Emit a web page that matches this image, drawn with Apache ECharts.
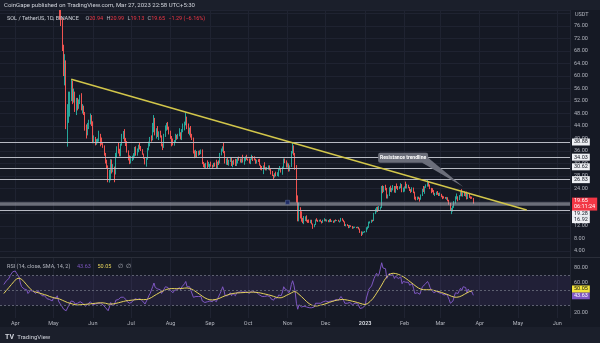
<!DOCTYPE html>
<html><head><meta charset="utf-8">
<script src="https://cdn.jsdelivr.net/npm/echarts@6/dist/echarts.min.js"></script>
<style>html,body{margin:0;padding:0;background:#151924;}#c{width:600px;height:343px;}</style>
</head><body><div id="c"></div>
<script>
// ---------- axis domain ----------
const axisStart = '2022-03-20', axisEnd = '2023-06-11';
const monthNames = ['Jan','Feb','Mar','Apr','May','Jun','Jul','Aug','Sep','Oct','Nov','Dec'];
const priceTickStep = 4, priceMin = 4, priceMax = 81.12, priceTopLabel = 76;
const rsiLabels = [20, 40, 60, 80], rsiMin = 13.333, rsiMax = 93.333;

// ---------- daily candles [open, high, low, close] ----------
const candleStart = '2022-05-05';
const may22 = [[95,96,84,86.5],[86.5,87,78,81],[81,82,76,77.5],[77.5,78.5,68,69],[69,70,60,62],[62,67,57,64],[64,65,43,45],[45,51,37.4,48],[48,55,45,51],[51,55,47,53],[53,59,52,58],[58,58.5,51,52.5],[52.5,56,51.5,54.5],[54.5,55,48.5,49],[49,53,47.5,52],[52,53,49,50.5],[50.5,52.5,49.5,51.5],[51.5,54,51,53],[53,54.5,49,49.5],[49.5,51,48,49.8],[49.8,50.5,47.5,48],[48,48.5,42.5,43.5],[43.5,44.5,40,41.5],[41.5,45,41,44.2],[44.2,46,43,45.3],[45.3,48,44.5,47],[47,47.5,44,45]];
const jun22 = [[45,45.5,38.5,39.2],[39.2,41,38.5,40.3],[40.3,40.5,37.8,38.6],[38.6,39.8,38,39.4],[39.4,40,38.5,39.6],[39.6,42.5,39,41.2],[41.2,41.5,37.5,39.5],[39.5,40.3,38,38.6],[38.6,38.9,37,37.5],[37.5,37.8,34.5,35],[35,35.4,32,32.6],[32.6,33.2,30.5,31.2],[31.2,31.4,26,26.9],[26.9,30,25.9,29.3],[29.3,33.4,26.6,32.9],[32.9,33.3,28.8,29.4],[29.4,31.8,29.2,30.6],[30.6,31,26,29.8],[29.8,35.4,28.5,35],[35,37.5,33.8,36.2],[36.2,38.6,35.2,35.9],[35.9,36.7,34.3,34.6],[34.6,38.4,34.3,38.2],[38.2,41.5,37.7,40.6],[40.6,42.4,39.8,41.9],[41.9,43,39,39.4],[39.4,40.2,37.6,38.2],[38.2,39.2,35.5,35.8],[35.8,36.2,33,34.3],[34.3,34.6,31.8,33.2]];
const jul22 = [[33.2,34.4,32,33.5],[33.5,34.5,32.8,34],[34,35.3,33.2,35],[35,37.3,34.2,37],[37,37.5,34.5,35.3],[35.3,36.8,34.5,36.3],[36.3,38,35.6,37.7],[37.7,38.6,36.5,37.2],[37.2,37.6,36,36.4],[36.4,36.6,34.8,35.1],[35.1,35.2,33.5,33.8],[33.8,34,31.7,32],[32,34,31,33.6],[33.6,37,33.2,36.6],[36.6,39,36.2,38.4],[38.4,40.5,37.5,40.2],[40.2,41,39,39.6],[39.6,45,39.4,44],[44,47.5,42,44.6],[44.6,46.6,41,41.5],[41.5,43.3,40,42.9],[42.9,44,40.5,41],[41,42.3,39.5,41.2],[41.2,42.5,40.3,40.7],[40.7,41,37.5,37.7],[37.7,38.4,36.3,37.6],[37.6,41.5,37,41.2],[41.2,44.2,40.5,43.5],[43.5,45,42.5,44.4],[44.4,45.3,42.8,43.2],[43.2,43.8,41.3,41.6]];
const aug22 = [[41.6,42.5,39.8,40.2],[40.2,40.8,37.5,38.5],[38.5,40,37.8,38.2],[38.2,39.5,37.7,39.1],[39.1,41.5,38.8,40.9],[40.9,41.2,39.6,40],[40,41.5,39.8,41],[41,43.3,40.7,41.9],[41.9,42,39.7,40.4],[40.4,43,39.5,42.4],[42.4,44.8,42,43.8],[43.8,45.4,42.6,44.9],[44.9,48.3,44.2,46.3],[46.3,47,43,43.5],[43.5,44.8,41.5,42.2],[42.2,43.5,41,42.9],[42.9,44,40.3,40.6],[40.6,41.5,39.5,40],[40,40.3,35.2,35.6],[35.6,36.2,33.7,34.5],[34.5,36.4,34,35.8],[35.8,36,33.8,35.4],[35.4,36.1,34.5,35.6],[35.6,36.2,34.7,35.2],[35.2,36.5,35,35.9],[35.9,36.5,31.8,32.1],[32.1,32.5,30.8,31.6],[31.6,32,30.6,30.9],[30.9,32.2,30.5,31.8],[31.8,33,30.5,31.2],[31.2,32.5,30.9,31.3]];
const sep22 = [[31.3,31.9,30.6,31.7],[31.7,32.6,31,31.4],[31.4,31.6,30.6,31],[31,32.2,30.8,32],[32,32.3,31,31.6],[31.6,33.2,30.4,30.7],[30.7,32.6,30.3,32.3],[32.3,33,31.5,32.2],[32.2,35.4,32,35],[35,36.8,34.6,36.4],[36.4,37.5,35.8,37.1],[37.1,38.6,35.3,35.6],[35.6,36,32,32.4],[32.4,33.6,31.6,33.2],[33.2,33.8,31.5,31.9],[31.9,33.2,31.3,32.8],[32.8,34,32.5,33.6],[33.6,33.8,31.2,31.5],[31.5,32.9,30.8,32.8],[32.8,33.2,31.6,31.9],[31.9,33.5,31.2,31.5],[31.5,33.4,31.2,33],[33,33.8,32,33.5],[33.5,34.2,32.9,33.2],[33.2,33.6,32.3,32.8],[32.8,33.6,32.2,33.4],[33.4,34.8,32.3,32.6],[32.6,33.8,31.6,33.5],[33.5,34.3,32.7,33.9],[33.9,34.8,33.2,33.4]];
const oct22 = [[33.4,33.6,32.9,33.1],[33.1,33.6,32,32.3],[32.3,33.6,31.8,33.4],[33.4,34.8,33.2,34.3],[34.3,34.4,32.8,33.7],[33.7,34.3,33,33.2],[33.2,33.5,31.9,32.4],[32.4,33.2,32,33],[33,33.4,32.5,32.8],[32.8,33.5,31.3,31.5],[31.5,31.6,30,30.6],[30.6,31.2,29.8,30.4],[30.4,31.4,28.6,30.6],[30.6,32.4,30.1,30.3],[30.3,30.8,29.8,30],[30,30.9,29.8,30.5],[30.5,31.4,30,31],[31,31.4,29.8,30.2],[30.2,30.4,28.5,28.8],[28.8,29.6,28,28.2],[28.2,28.4,26.9,27.8],[27.8,28.9,27.5,28.8],[28.8,29.4,27.9,28.4],[28.4,29.2,28,28.5],[28.5,30.5,27.8,30.3],[30.3,31.2,29.8,30.4],[30.4,30.6,29.1,29.2],[29.2,31,28.4,30.8],[30.8,33.6,30.6,33.4],[33.4,33.6,32.1,32.3],[32.3,33,30.7,31.3]];
const nov22 = [[31.3,32.3,30.7,31.6],[31.6,32,29.4,29.8],[29.8,31.4,29.5,31.1],[31.1,36,30.9,35.5],[35.5,38.8,35.2,37.6],[37.6,37.8,34.6,35.2],[35.2,35.4,30,30.4],[30.4,31.5,19.5,21],[21,21.8,13.5,15],[15,19.5,13.5,17.8],[17.8,18,14.4,15.3],[15.3,16.7,13.4,14.1],[14.1,14.6,12.9,13.6],[13.6,15.2,12.6,14.2],[14.2,15.1,13.6,14.2],[14.2,15.4,13.4,13.7],[13.7,14,13,13.4],[13.4,14.1,13,13.2],[13.2,14,12.9,13.7],[13.7,14,12.5,12.7],[12.7,12.8,11.1,11.9],[11.9,12.6,11.6,12.5],[12.5,14.1,12.3,13.9],[13.9,14.5,13.5,13.8],[13.8,14,13.3,13.6],[13.6,14,13.4,13.8],[13.8,14.1,13.4,13.5],[13.5,13.6,12.8,13.2],[13.2,14,13,13.6],[13.6,14.5,13.5,14.1]];
const dec22 = [[14.1,14.2,13.5,13.8],[13.8,14.1,13.4,13.8],[13.8,13.9,13.2,13.3],[13.3,14.2,13.2,13.9],[13.9,14.3,13.3,13.5],[13.5,13.8,13.3,13.6],[13.6,13.7,13,13.3],[13.3,13.9,13.1,13.8],[13.8,14.1,13.5,13.7],[13.7,13.9,13.6,13.8],[13.8,14,13.4,13.5],[13.5,13.7,13.1,13.6],[13.6,14.6,13.4,14.2],[14.2,14.5,13.7,13.9],[13.9,14,13.2,13.4],[13.4,13.5,12,12.2],[12.2,12.6,11.9,12.4],[12.4,12.6,12,12.2],[12.2,12.3,11.3,11.5],[11.5,12.3,11.4,12.1],[12.1,12.2,11.7,11.9],[11.9,12,11.1,11.3],[11.3,11.8,11.2,11.6],[11.6,11.8,11.4,11.6],[11.6,11.7,11.3,11.4],[11.4,11.8,11.3,11.6],[11.6,11.7,10.9,11.1],[11.1,11.2,9.8,9.9],[9.9,10.3,8.8,9.6],[9.6,10.2,9.2,9.9],[9.9,10.2,9.8,10]];
const jan23 = [[10,10.4,9.9,10.1],[10.1,11.6,10,11.4],[11.4,11.9,10.9,11.6],[11.6,13.4,11.4,13.2],[13.2,13.5,12.8,13.4],[13.4,14,13,13.9],[13.9,14,13.4,13.7],[13.7,16.2,13.6,16],[16,17.6,15.8,17],[17,18.1,16.4,17.9],[17.9,18.2,16.5,17.3],[17.3,18.4,16.8,17.9],[17.9,18.2,17.2,18],[18,24.8,17.8,24.3],[24.3,25,22.5,23.2],[23.2,24.8,22.9,24.4],[24.4,25.2,23.4,23.9],[23.9,24.2,20.8,21.4],[21.4,22.1,20.8,21.8],[21.8,24.4,21.6,24.1],[24.1,24.9,22.9,23.5],[23.5,24.2,22.8,23.7],[23.7,25.1,23.4,24.4],[24.4,24.8,22.7,23],[23,24.8,22.6,24.6],[24.6,25.6,23.9,24.3],[24.3,24.8,23.5,24.2],[24.2,24.7,23.8,24.4],[24.4,25.7,24.1,25.3],[25.3,25.4,22.8,23],[23,24.3,22.8,24.1]];
const feb23 = [[24.1,24.7,23,24.5],[24.5,26.2,24,24.4],[24.4,25.5,24,24.6],[24.6,25.2,24.1,24.4],[24.4,24.5,23.2,23.5],[23.5,23.8,22.6,23.3],[23.3,24.4,22.9,24.1],[24.1,24.3,22.5,22.9],[22.9,23,20.5,20.8],[20.8,21.4,20.2,20.5],[20.5,21.4,20.3,21.2],[21.2,21.4,20.6,20.9],[20.9,21.1,19.8,20.6],[20.6,22.1,20.4,21.9],[21.9,23.9,21.6,23.8],[23.8,24.8,22.9,23.1],[23.1,24.7,22.3,24.5],[24.5,25.3,24.2,24.9],[24.9,26.9,24.6,25.9],[25.9,26.4,24.6,25.2],[25.2,25.3,23.8,24.1],[24.1,24.2,22.5,23.5],[23.5,24.1,22.8,23.2],[23.2,23.5,22,22.2],[22.2,22.6,21.6,22.2],[22.2,23,21.9,22.7],[22.7,23.2,22,22.4],[22.4,22.6,21.6,22]];
const mar23 = [[22,22.7,21.6,22.1],[22.1,22.3,21.2,21.6],[21.6,21.7,20.6,21.4],[21.4,21.5,20.8,21],[21,21.3,20.7,20.9],[20.9,21.3,20.4,21.1],[21.1,21.2,19.9,20.3],[20.3,20.4,18.8,19.1],[19.1,19.4,16.9,17.3],[17.3,17.8,15.8,17.6],[17.6,18.4,16.6,18],[18,20,17.8,19.7],[19.7,21.5,19.2,21],[21,22.4,20.5,21.2],[21.2,21.5,19.9,20.6],[20.6,21.9,20.3,21.7],[21.7,22.9,21.5,22.5],[22.5,23.8,21.5,21.7],[21.7,22.8,21.4,22.7],[22.7,23.1,21.6,21.8],[21.8,22.8,21.4,22.6],[22.6,23,20.5,20.8],[20.8,22.3,20.6,22.2],[22.2,22.3,21,21.2],[21.2,21.5,20.7,21.1],[21.1,21.4,20.7,20.94],[20.94,20.99,19.13,19.65]];

// ---------- RSI (14) and its SMA (14), daily ----------
const rsiStart = '2022-03-23';
const rsiMar22 = [58,60,63,64,66,70,72,75,74];
const rsiApr22 = [76,73,71,68,60,55,54,52,53,51,46,48,50,48,49,48,46,48,50,47,45,43,44,43,44,39,41,38,37,36];
const rsiMay22 = [40,41,40,43,36,33,31,28,25,27,23,25,30,32,36,34,35,32,34,33,34,35,33,33,32,29,28,32,33,35,34];
const rsiJun22 = [31,33,32,33,33,35,33,32,31,29,27,26,23,28,34,30,32,31,37,38,38,37,41,40,41,39,38,35,34,33];
const rsiJul22 = [34,35,36,39,37,38,39,39,38,36,34,32,34,39,43,46,45,55,60,54,55,52,52,51,46,46,52,55,56,54,52];
const rsiAug22 = [50,48,47,50,52,51,52,54,51,55,57,59,62,55,53,55,50,49,41,40,42,41,42,41,42,36,35,34,36,35,35];
const rsiSep22 = [36,36,35,38,37,35,39,39,46,50,55,50,43,45,43,45,47,43,46,44,43,47,48,48,47,48,47,48,49,48];
const rsiOct22 = [47,46,48,50,49,48,46,47,47,44,42,42,43,42,42,43,44,42,39,38,37,40,39,40,44,46,43,48,55,52,50];
const rsiNov22 = [50,47,50,58,63,57,48,33,25,31,29,28,27,29,29,28,28,27,29,27,25,28,33,34,33,34,33,34,35,37];
const rsiDec22 = [36,36,35,37,36,37,36,38,38,38,37,37,42,40,37,33,34,33,31,34,33,31,32,33,32,33,31,26,24,27,29];
const rsiJan23 = [30,40,42,52,53,56,55,66,70,73,69,72,72,87,80,82,79,66,68,73,70,70,71,66,69,67,66,66,68,59,62];
const rsiFeb23 = [62,61,62,61,57,56,59,53,46,45,47,46,45,50,55,53,58,59,62,59,54,51,50,47,47,49,48,47];
const rsiMar23 = [47,46,45,44,44,45,42,38,33,33,36,42,47,48,46,50,53,50,55,53,54,47,52,49,49,48,43.63];
const maMar22 = [46,48,50,52,54,56,58,60,62];
const maApr22 = [64,65.5,66.5,66.5,66,65,63.5,61.5,59.5,57.5,55.5,53.5,52,50.5,49.5,48.5,48,47.5,47,46.5,46,45.5,45,44.5,44,43.5,43,42,41.5,41];
const maMay22 = [40.5,40,39.5,39.5,39,38.5,38,37,36,35.5,34.5,34,33.5,33,32.5,32,31.5,31,30.8,30.7,30.8,31,31.2,31.3,31.4,31.5,31.6,31.8,32,32.2,32.4];
const maJun22 = [32.6,32.8,33,33.2,33.4,33.5,33.6,33.6,33.5,33.3,33,32.6,32,31.8,31.9,32,32.2,32.4,32.8,33.2,33.6,34,34.5,35,35.4,35.8,36.2,36.4,36.6,36.8];
const maJul22 = [37,37.2,37.4,37.6,37.8,37.9,38,38,37.9,37.8,37.8,37.8,38,38.4,39,39.8,40.6,41.6,42.8,43.8,44.8,45.8,46.8,47.8,48.5,49.2,50,50.8,51.5,52,52.3];
const maAug22 = [52.5,52.6,52.6,52.5,52.5,52.4,52.4,52.5,52.6,52.8,53,53.2,53.4,53.4,53.2,52.8,52.2,51.5,50.5,49.5,48.3,47.2,46,44.8,43.6,42.4,41.2,40.2,39.4,38.6,38];
const maSep22 = [37.6,37.4,37.4,37.6,37.9,38.2,38.7,39.3,40,40.8,41.6,42.3,43,43.6,44.2,44.8,45.3,45.7,46,46.3,46.5,46.7,46.8,46.9,47,47.1,47.2,47.3,47.4,47.5];
const maOct22 = [47.6,47.7,47.8,47.8,47.8,47.7,47.6,47.4,47.2,46.9,46.6,46.2,45.8,45.4,45,44.6,44.2,43.8,43.3,42.8,42.2,41.6,41,40.6,40.3,40.2,40.3,40.8,41.6,42.5,43.4];
const maNov22 = [44.3,45,45.8,46.8,47.8,48.6,48.8,47.8,46.2,44.8,43.3,41.8,40.2,38.5,36.8,35.2,33.6,32.4,31.3,30.5,29.8,29.4,29.2,29.3,29.6,30,30.4,30.8,31.3,31.8];
const maDec22 = [32.4,33,33.6,34.2,34.8,35.4,35.9,36.4,36.8,37.2,37.5,37.7,37.9,38,38,37.8,37.5,37.2,36.8,36.5,36.1,35.7,35.3,34.9,34.5,34,33.5,32.9,32.3,31.8,31.5];
const maJan23 = [31.4,31.8,32.6,34,35.5,37.2,39,41.3,43.8,46.5,49,51.6,54.2,57.3,60.3,63.3,66,68.2,70,71.4,72.3,72.8,73,72.9,72.6,72.2,71.6,70.9,70.2,69.3,68.3];
const maFeb23 = [67.2,66,64.8,63.5,62.2,60.8,59.5,58.2,56.8,55.5,54.3,53.2,52.3,51.7,51.3,51.1,51,51,51.1,51.1,51,50.8,50.5,50.1,49.7,49.3,48.9,48.4];
const maMar23 = [47.9,47.4,46.8,46.2,45.6,45,44.4,43.7,42.9,42.2,41.6,41.2,41,41,41.2,41.6,42.2,43,43.9,44.9,45.9,46.8,47.7,48.5,49.2,49.7,50.05];

// ---------- drawn levels / annotations ----------
const levels = [38.88, 34.03, 30.62, 26.83, 16.92];
const levelShift = [0, 0, -1, 0, 9];
const bandLevel = 19.28;
const lastPrice = 19.65, countdown = '06:11:24';
const rsiLast = 43.63, maLast = 50.05;
const rsiGuides = [70, 50, 30];
const trendStart = ['2022-05-15', 58.94], trendEnd = ['2023-05-08', 17.10];
const calloutAt = ['2023-03-19', 24.6];
const handleAt = ['2022-11-01', 19.6];

// ---------- build ----------
const DAY = 86400000;
const iso = t => new Date(t).toISOString().slice(0, 10);
const dates = [];
for (let t = Date.parse(axisStart + 'T00:00:00Z'); t <= Date.parse(axisEnd + 'T00:00:00Z'); t += DAY) dates.push(iso(t));
function byDate(start, rows) {
  const m = {}; let t = Date.parse(start + 'T00:00:00Z');
  rows.forEach(r => { m[iso(t)] = r; t += DAY; });
  return m;
}
const cMap = byDate(candleStart, [].concat(may22, jun22, jul22, aug22, sep22, oct22, nov22, dec22, jan23, feb23, mar23));
const rMap = byDate(rsiStart, [].concat(rsiMar22, rsiApr22, rsiMay22, rsiJun22, rsiJul22, rsiAug22, rsiSep22, rsiOct22, rsiNov22, rsiDec22, rsiJan23, rsiFeb23, rsiMar23));
const aMap = byDate(rsiStart, [].concat(maMar22, maApr22, maMay22, maJun22, maJul22, maAug22, maSep22, maOct22, maNov22, maDec22, maJan23, maFeb23, maMar23));
const candleData = dates.map(d => cMap[d] ? [cMap[d][0], cMap[d][3], cMap[d][2], cMap[d][1]] : ['-', '-', '-', '-']);
const rsiData = dates.map(d => rMap[d] !== undefined ? rMap[d] : '-');
const maData = dates.map(d => aMap[d] !== undefined ? aMap[d] : '-');

const FONT = 'Roboto, "Noto Sans", sans-serif';
const isMonthStart = (i, v) => v.slice(8) === '01';
const gridLine = '#1f2331';
const HIDDEN = { color: 'rgba(0,0,0,0)', width: 1, type: 'solid' };
const tagLabel = (txt, dy, bg, fg) => ({
  show: true, position: 'end', distance: 2, formatter: txt, color: fg,
  backgroundColor: bg, fontSize: 5.5, lineHeight: 6, fontFamily: FONT, padding: [1, 2, 0, 2], offset: [0, dy]
});

const chart = echarts.init(document.getElementById('c'));
chart.setOption({
  animation: false,
  backgroundColor: '#151924',
  grid: [
    { left: 0, right: 30, top: 10, height: 241 },
    { left: 0, right: 30, top: 258, height: 60 }
  ],
  xAxis: [
    { type: 'category', gridIndex: 0, data: dates, boundaryGap: false,
      axisLine: { show: false }, axisTick: { show: false }, axisLabel: { show: false },
      splitLine: { show: true, interval: isMonthStart, lineStyle: { color: gridLine, width: 1 } } },
    { type: 'category', gridIndex: 1, data: dates, boundaryGap: false,
      axisLine: { show: false }, axisTick: { show: false },
      splitLine: { show: true, interval: isMonthStart, lineStyle: { color: gridLine, width: 1 } },
      axisLabel: { interval: isMonthStart, margin: 3, fontSize: 5.5, fontFamily: FONT, color: '#b2b5be',
        formatter: v => { const m = +v.slice(5, 7); return m === 1 ? '{y|' + v.slice(0, 4) + '}' : monthNames[m - 1]; },
        rich: { y: { fontSize: 5.5, fontWeight: 'bold', color: '#d1d4dc', fontFamily: FONT } } } }
  ],
  yAxis: [
    { type: 'value', gridIndex: 0, position: 'right', min: priceMin, max: priceMax, interval: priceTickStep,
      axisLine: { show: false }, axisTick: { show: false },
      axisLabel: { margin: 4, fontSize: 5.5, fontFamily: FONT, color: '#b2b5be', showMaxLabel: false,
        formatter: v => (v > priceTopLabel ? '' : v.toFixed(2)) },
      splitLine: { show: true, lineStyle: { color: gridLine, width: 1 } } },
    { type: 'value', gridIndex: 1, position: 'right', min: rsiMin, max: rsiMax,
      axisLine: { show: false }, axisTick: { show: false }, splitLine: { show: false },
      axisLabel: { customValues: rsiLabels, margin: 4, fontSize: 5.5, fontFamily: FONT, color: '#b2b5be',
        formatter: v => v.toFixed(2) } }
  ],
  series: [
    { type: 'candlestick', xAxisIndex: 0, yAxisIndex: 0, data: candleData, barWidth: 1, clip: true,
      itemStyle: { color: '#26a69a', color0: '#ef5350', borderColor: '#26a69a', borderColor0: '#ef5350', borderWidth: 1 },
      markLine: {
        silent: true, symbol: ['none', 'none'], animation: false,
        data: [
          ...levels.map((v, i) => ({ yAxis: v, lineStyle: { color: '#b7bac3', width: 1, type: 'solid' }, label: tagLabel(v.toFixed(2), levelShift[i], '#eef0f4', '#131722') })),
          { yAxis: bandLevel, lineStyle: { color: 'rgba(178,181,192,0.55)', width: 3.5, type: 'solid' }, label: tagLabel(bandLevel.toFixed(2), 10, '#eef0f4', '#131722') },
          { yAxis: lastPrice, lineStyle: HIDDEN, label: tagLabel(lastPrice.toFixed(2) + '\n' + countdown, 2, '#f23645', '#ffffff') },
          [ { coord: trendStart, lineStyle: { color: '#d2c64a', width: 1.5, type: 'solid' }, label: { show: false } },
            { coord: trendEnd } ]
        ]
      },
      markPoint: { silent: true, animation: false, data: [ { coord: handleAt, symbol: 'rect', symbolSize: 4,
        itemStyle: { color: '#1f2c66', borderColor: '#5a6a9a', borderWidth: 0.5 }, label: { show: false } } ] }
    },
    { type: 'line', name: 'RSI', xAxisIndex: 1, yAxisIndex: 1, data: rsiData, showSymbol: false, symbol: 'none',
      lineStyle: { color: '#7e57c2', width: 1 },
      markArea: { silent: true, itemStyle: { color: 'rgba(126,87,194,0.12)' }, data: [[{ yAxis: rsiGuides[0] }, { yAxis: rsiGuides[2] }]] },
      markLine: { silent: true, symbol: ['none', 'none'], animation: false, data: [
        ...rsiGuides.map(v => ({ yAxis: v, lineStyle: { color: '#5d6070', width: 1, type: [2, 2] }, label: { show: false } })),
        { yAxis: rsiLast, lineStyle: HIDDEN, label: tagLabel(rsiLast.toFixed(2), 0.5, '#7e57c2', '#ffffff') }
      ] } },
    { type: 'line', name: 'MA', xAxisIndex: 1, yAxisIndex: 1, data: maData, showSymbol: false, symbol: 'none',
      lineStyle: { color: '#e6d35c', width: 1 },
      markLine: { silent: true, symbol: ['none', 'none'], animation: false, data: [
        { yAxis: maLast, lineStyle: HIDDEN, label: tagLabel(maLast.toFixed(2), -1.5, '#f2e33a', '#131722') }
      ] } }
  ]
});

// ---------- overlay texts / callout ----------
const tip = chart.convertToPixel({ xAxisIndex: 0, yAxisIndex: 0 }, calloutAt);
chart.setOption({ graphic: [
  { type: 'rect', left: 0, top: 0, shape: { width: 600, height: 10 }, style: { fill: '#1b1f2b' }, z: 10 },
  { type: 'text', left: 4, top: 2, z: 11, style: { text: 'CoinGape published on TradingView.com, Mar 27, 2023 22:58 UTC+5:30', fill: '#d1d4dc', font: '6px ' + FONT } },
  { type: 'text', left: 7, top: 13, z: 11, style: {
      text: '{a|SOL / TetherUS, 1D, BINANCE}  {g|O}{r|20.94} {g|H}{r|20.99} {g|L}{r|19.13} {g|C}{r|19.65} {r|−1.29 (−6.16%)}',
      rich: { a: { fill: '#d1d4dc', fontSize: 5.5, fontFamily: FONT }, g: { fill: '#b2b5be', fontSize: 5.5, fontFamily: FONT }, r: { fill: '#f23645', fontSize: 5.5, fontFamily: FONT } } } },
  { type: 'text', left: 575, top: 12, z: 11, style: { text: 'USDT', fill: '#b2b5be', font: '5.5px ' + FONT } },
  { type: 'text', left: 7, top: 261, z: 11, style: {
      text: '{a|RSI (14, close, SMA, 14, 2)}  {p|43.63}  {y|50.05}  {a|∅  ∅}',
      rich: { a: { fill: '#b2b5be', fontSize: 5.5, fontFamily: FONT }, p: { fill: '#7e57c2', fontSize: 5.5, fontFamily: FONT }, y: { fill: '#e6d35c', fontSize: 5.5, fontFamily: FONT } } } },
  { type: 'line', shape: { x1: 0, y1: 257.5, x2: 600, y2: 257.5 }, style: { stroke: '#2a2e39', lineWidth: 1 }, z: 5 },
  { type: 'line', shape: { x1: 570.5, y1: 10, x2: 570.5, y2: 318 }, style: { stroke: '#232734', lineWidth: 1 }, z: 1 },
  { type: 'rect', left: 0, top: 327, shape: { width: 600, height: 16 }, style: { fill: '#1b1f2b' }, z: 10 },
  { type: 'text', left: 5, top: 331, z: 11, style: { text: '{l|TV} {t|TradingView}', rich: {
      l: { fill: '#d1d4dc', fontSize: 7, fontWeight: 'bold', fontFamily: FONT }, t: { fill: '#d1d4dc', fontSize: 6, fontFamily: FONT } } } },
  { type: 'polygon', z: 20, shape: { points: [[tip[0] - 41, tip[1] - 24], [tip[0] - 35, tip[1] - 29], tip] }, style: { fill: '#6b6e7a' } },
  { type: 'rect', z: 21, shape: { x: tip[0] - 85, y: tip[1] - 34, width: 50, height: 10, r: 2 }, style: { fill: '#6b6e7a' } },
  { type: 'text', z: 22, x: tip[0] - 60, y: tip[1] - 29, style: { text: 'Resistance trendline', fill: '#ffffff', font: 'bold 5px ' + FONT, align: 'center', verticalAlign: 'middle' } }
] });
</script></body></html>
